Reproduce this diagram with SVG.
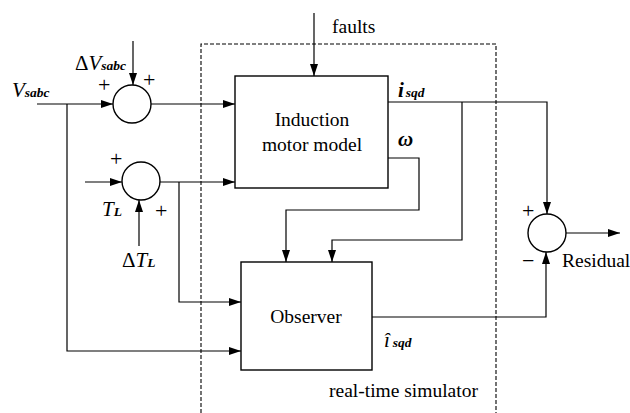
<svg xmlns="http://www.w3.org/2000/svg" width="630" height="413" viewBox="0 0 630 413">
<style>
.l{fill:none;stroke:#000;stroke-width:1.2}
.b{fill:#fff;stroke:#000;stroke-width:1.4}
.d{fill:none;stroke:#000;stroke-width:1.1;stroke-dasharray:4,2}
text{font-family:'Liberation Serif','Times New Roman',Tinos,'DejaVu Serif','Noto Serif',serif;fill:#000}
.t{font-size:19.5px}
.i{font-style:italic;font-size:21px}
.s{font-size:13.5px;font-weight:bold}
.p{font-size:22px}
</style>
<defs>
<marker id="a" viewBox="0 0 12 8" refX="12" refY="4" markerWidth="12" markerHeight="8" markerUnits="userSpaceOnUse" orient="auto">
<path d="M0,0L12,4L0,8z" fill="#000"/>
</marker>
</defs>
<rect x="0" y="0" width="630" height="413" fill="#fff"/>
<g id="simulator">
<path class="d" d="M201,413V44H496V413"/>
<text class="t" x="329" y="397">real-time simulator</text>
</g>
<g id="connectors">
<path class="l" d="M314,13V76" marker-end="url(#a)"/>
<path class="l" d="M37,104H113" marker-end="url(#a)"/>
<path class="l" d="M133,41V85" marker-end="url(#a)"/>
<path class="l" d="M151,104H235" marker-end="url(#a)"/>
<path class="l" d="M67,104V351H241" marker-end="url(#a)"/>
<path class="l" d="M85,182H122" marker-end="url(#a)"/>
<path class="l" d="M139,246V200" marker-end="url(#a)"/>
<path class="l" d="M160,182H235" marker-end="url(#a)"/>
<path class="l" d="M179,182V302H241" marker-end="url(#a)"/>
<path class="l" d="M388,158H419V210H286V262" marker-end="url(#a)"/>
<path class="l" d="M388,102H547V214" marker-end="url(#a)"/>
<path class="l" d="M462,102V240H332V262" marker-end="url(#a)"/>
<path class="l" d="M372,317H546V252" marker-end="url(#a)"/>
<path class="l" d="M565,233H620" marker-end="url(#a)"/>
</g>
<g id="sum1">
<circle class="b" cx="132" cy="104" r="19"/>
<text class="p" x="98" y="92">+</text>
<text class="p" x="143" y="87">+</text>
</g>
<g id="sum2">
<circle class="b" cx="141" cy="181" r="19"/>
<text class="p" x="110" y="166">+</text>
<text class="p" x="155" y="218">+</text>
</g>
<g id="sum3">
<circle class="b" cx="547" cy="233" r="19"/>
<text class="p" x="522" y="218">+</text>
<text class="p" x="522" y="268">−</text>
</g>
<g id="motor">
<rect class="b" x="235" y="76" width="153" height="112"/>
<text class="t" x="312" y="126" text-anchor="middle">Induction</text>
<text class="t" x="312" y="151" text-anchor="middle">motor model</text>
</g>
<g id="observer">
<rect class="b" x="241" y="262" width="131" height="108"/>
<text class="t" x="306" y="323" text-anchor="middle">Observer</text>
</g>
<g id="labels">
<text class="t" x="332" y="33">faults</text>
<text class="i" x="12" y="97">V<tspan class="s">sabc</tspan></text>
<text class="i" x="75" y="70"><tspan font-style="normal">Δ</tspan>V<tspan class="s">sabc</tspan></text>
<text class="i" x="102" y="216">T<tspan class="s" font-weight="normal">L</tspan></text>
<text class="i" x="122" y="267"><tspan font-style="normal">Δ</tspan>T<tspan class="s" font-weight="normal">L</tspan></text>
<text class="i" x="398" y="97" font-weight="bold">i<tspan class="s" font-size="13px" dx="2">sqd</tspan></text>
<text class="i" x="398" y="146" font-weight="bold">ω</text>
<text class="i" x="384" y="347">î<tspan class="s" font-size="13px" font-weight="normal" dx="3">sqd</tspan></text>
<text class="t" x="562" y="267">Residual</text>
</g>
</svg>
